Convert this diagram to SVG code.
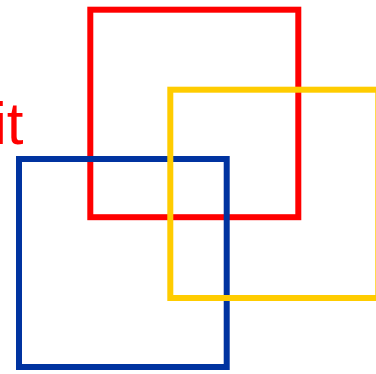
<svg xmlns="http://www.w3.org/2000/svg" width="376" height="374" viewBox="0 0 376 374">
<style>
.sq{fill:none;stroke-width:6}
.lbl{font-family:"Liberation Sans",Arial,sans-serif;font-size:60px;fill:#ff0000}
</style>
<rect width="376" height="374" fill="#ffffff"/>
<text class="lbl" x="-6.5" y="144">it</text>
<g id="red"><rect class="sq" x="90.3" y="9.7" width="208" height="207.5" stroke="#ff0000"/></g>
<g id="blue"><rect class="sq" x="19" y="159" width="207.7" height="208" stroke="#0033a0"/></g>
<g id="yellow"><rect class="sq" x="170.3" y="89.7" width="208" height="208.3" stroke="#ffcc00"/></g>
<g id="connectors"></g>
</svg>
